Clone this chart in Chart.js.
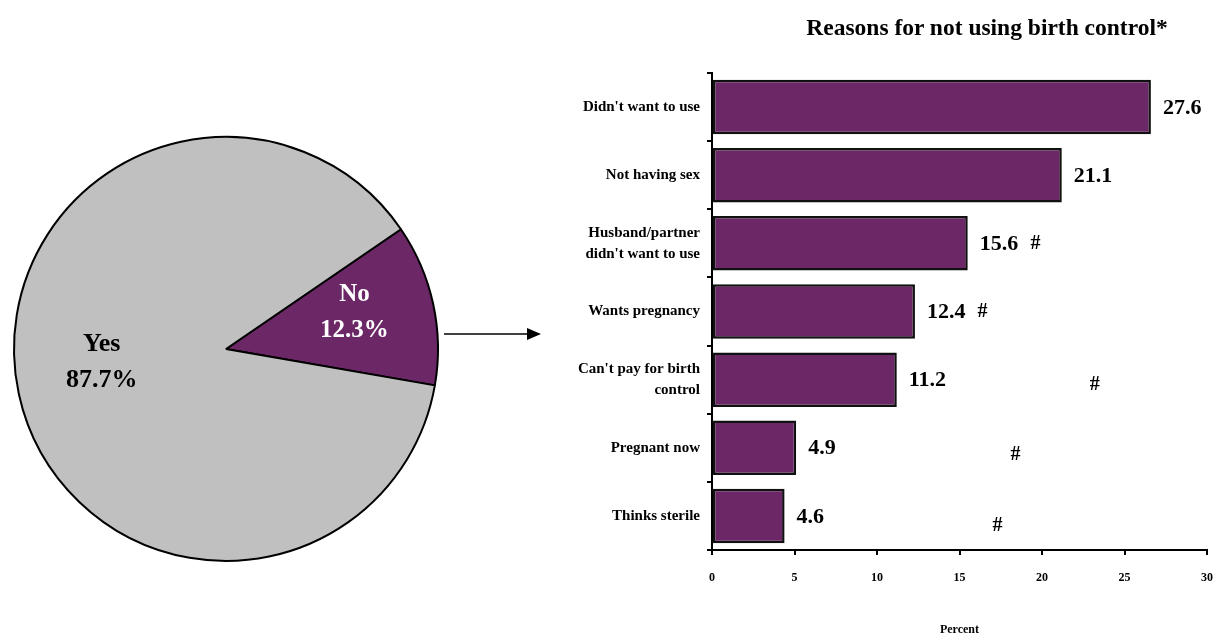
<!DOCTYPE html>
<html>
<head>
<meta charset="utf-8">
<script src="https://cdn.jsdelivr.net/npm/chart.js@4.4.1/dist/chart.umd.min.js"></script>
<style>
  html, body { margin: 0; padding: 0; background: #fff; }
  body { width: 1216px; height: 637px; position: relative; overflow: hidden; }
  #pieWrap { position: absolute; left: 0; top: 0; width: 560px; height: 637px; }
  #barWrap { position: absolute; left: 560px; top: 0; width: 656px; height: 637px; }
  #title {
    position: absolute; left: 760px; width: 454px; top: 14px; text-align: center;
    font: bold 23.5px "Liberation Serif", "DejaVu Serif", serif; color: #000;
    white-space: nowrap;
  }
</style>
</head>
<body>
<div id="pieWrap"><canvas id="pieChart"></canvas></div>
<div id="barWrap"><canvas id="barChart"></canvas></div>
<div id="title">Reasons for not using birth control*</div>
<script>
// pie: used birth control?
const pieLabels = ["No", "Yes"];
const pieValues = [12.3, 87.7];

// bars: reasons for not using
const reasons = [
  "Didn't want to use",
  "Not having sex",
  ["Husband/partner", "didn't want to use"],
  "Wants pregnancy",
  ["Can't pay for birth", "control"],
  "Pregnant now",
  "Thinks sterile",
];
const barValues = [26.6, 21.2, 15.5, 12.3, 11.2, 5.1, 4.4];
const valueText = ["27.6", "21.1", "15.6", "12.4", "11.2", "4.9", "4.6"];
const xTicks = [0, 5, 10, 15, 20, 25, 30];

const purple = "#6b2766";
const grey = "#c0c0c0";
const serif = "'Liberation Serif', 'DejaVu Serif', serif";

// pie labels + arrow
const pieText = {
  id: "pieText",
  afterDatasetsDraw(chart) {
    const { ctx } = chart;
    const arcs = chart.getDatasetMeta(0).data;
    const conf = [
      { frac: 0.62, dy: -9, color: "#fff", size: 25 },
      { frac: 0.6, dy: -14, color: "#000", size: 26 },
    ];
    ctx.save();
    ctx.textAlign = "center";
    ctx.textBaseline = "middle";
    arcs.forEach((arc, i) => {
      const { x, y, startAngle, endAngle, outerRadius } = arc.getProps(
        ["x", "y", "startAngle", "endAngle", "outerRadius"], true);
      const mid = (startAngle + endAngle) / 2;
      const r = outerRadius * conf[i].frac;
      const cx = x + Math.cos(mid) * r;
      const cy = y + Math.sin(mid) * r + conf[i].dy;
      ctx.fillStyle = conf[i].color;
      ctx.font = "bold " + conf[i].size + "px " + serif;
      ctx.fillText(pieLabels[i], cx, cy - 18);
      ctx.fillText(pieValues[i].toFixed(1) + "%", cx, cy + 18);
    });
    // arrow to the bar chart
    const a = chart.chartArea;
    const ay = 334;
    ctx.strokeStyle = "#000";
    ctx.lineWidth = 1.5;
    ctx.beginPath();
    ctx.moveTo(a.right + 5, ay);
    ctx.lineTo(a.right + 90, ay);
    ctx.stroke();
    ctx.fillStyle = "#000";
    ctx.beginPath();
    ctx.moveTo(a.right + 102, ay);
    ctx.lineTo(a.right + 88, ay - 6);
    ctx.lineTo(a.right + 88, ay + 6);
    ctx.closePath();
    ctx.fill();
    ctx.restore();
  },
};

new Chart(document.getElementById("pieChart"), {
  type: "pie",
  data: {
    labels: pieLabels,
    datasets: [{
      data: pieValues,
      backgroundColor: [purple, grey],
      borderColor: "#000",
      borderWidth: 2,
    }],
  },
  options: {
    responsive: true,
    maintainAspectRatio: false,
    animation: false,
    rotation: 55.6,
    layout: { padding: { left: 13, right: 121, top: 136, bottom: 75 } },
    plugins: { legend: { display: false }, tooltip: { enabled: false } },
  },
  plugins: [pieText],
});

// value labels and # marks next to bars
const barText = {
  id: "barText",
  afterDatasetsDraw(chart, args, opts) {
    const { ctx } = chart;
    const xs = chart.scales.x;
    const bars = chart.getDatasetMeta(0).data;
    ctx.save();
    ctx.fillStyle = "#000";
    ctx.textBaseline = "middle";
    ctx.textAlign = "left";
    ctx.font = "bold 22px " + serif;
    bars.forEach((bar, i) => {
      ctx.fillText(valueText[i], bar.x + 12, bar.y + 1);
    });
    ctx.font = "bold 20px " + serif;
    ctx.textAlign = "center";
    opts.hashes.forEach((h) => {
      ctx.fillText("#", xs.getPixelForValue(h.x), bars[h.row].y + h.dy);
    });
    ctx.restore();
  },
};

new Chart(document.getElementById("barChart"), {
  type: "bar",
  data: {
    labels: reasons,
    datasets: [{
      data: barValues,
      backgroundColor: purple,
      borderColor: "#111",
      borderWidth: 2.5,
      borderSkipped: false,
      barPercentage: 0.8,
      categoryPercentage: 1,
    }],
  },
  options: {
    indexAxis: "y",
    responsive: true,
    maintainAspectRatio: false,
    animation: false,
    layout: { padding: { left: 0, right: 0, top: 73, bottom: 0 } },
    plugins: {
      legend: { display: false },
      tooltip: { enabled: false },
      barText: {
        hashes: [
          { row: 2, x: 19.6, dy: 0 },
          { row: 3, x: 16.4, dy: 0 },
          { row: 4, x: 23.2, dy: 5 },
          { row: 5, x: 18.4, dy: 7 },
          { row: 6, x: 17.3, dy: 10 },
        ],
      },
    },
    scales: {
      x: {
        min: 0,
        max: 30,
        afterBuildTicks: (s) => { s.ticks = xTicks.map((v) => ({ value: v })); },
        afterFit: (s) => { s.height = 87; s.paddingRight = 9; },
        border: { color: "#000", width: 2 },
        grid: { drawOnChartArea: false, drawTicks: true, tickLength: 5, color: "#000", lineWidth: 2 },
        ticks: { color: "#000", font: { family: serif, size: 12, weight: "bold" }, padding: 16, maxRotation: 0 },
        title: {
          display: true,
          text: "Percent",
          color: "#000",
          font: { family: serif, size: 12, weight: "bold" },
          padding: { top: 0, bottom: 0 },
        },
      },
      y: {
        afterFit: (s) => { s.width = 152; },
        border: { color: "#000", width: 2 },
        grid: { drawOnChartArea: false, drawTicks: true, tickLength: 5, color: "#000", lineWidth: 2, offset: true },
        ticks: { color: "#000", font: { family: serif, size: 15, weight: "bold", lineHeight: 1.4 }, padding: 7 },
      },
    },
  },
  plugins: [barText],
});
</script>
</body>
</html>
